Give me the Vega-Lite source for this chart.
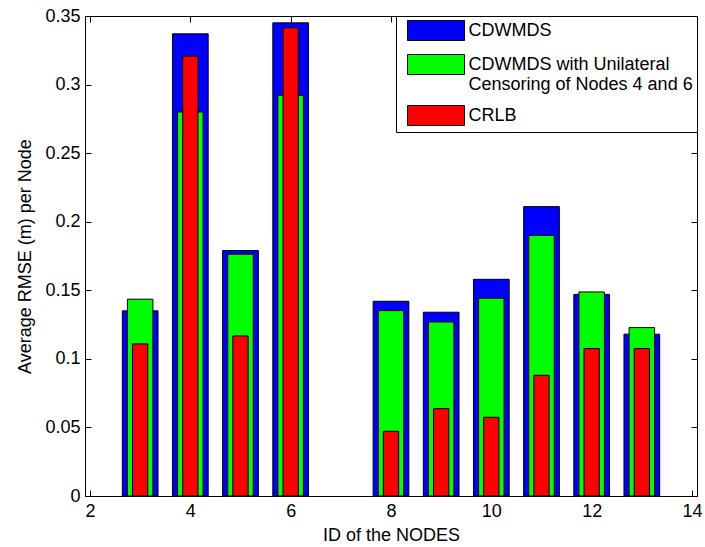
{
  "$schema": "https://vega.github.io/schema/vega-lite/v6.json",
  "width": 612,
  "height": 480,
  "autosize": {"type": "none"},
  "padding": {"left": 85, "top": 16, "right": 8, "bottom": 51},
  "background": "white",
  "data": {
    "values": [
      {"node": 3, "series": "CDWMDS", "value": 0.135},
      {"node": 4, "series": "CDWMDS", "value": 0.337},
      {"node": 5, "series": "CDWMDS", "value": 0.179},
      {"node": 6, "series": "CDWMDS", "value": 0.345},
      {"node": 8, "series": "CDWMDS", "value": 0.142},
      {"node": 9, "series": "CDWMDS", "value": 0.134},
      {"node": 10, "series": "CDWMDS", "value": 0.158},
      {"node": 11, "series": "CDWMDS", "value": 0.211},
      {"node": 12, "series": "CDWMDS", "value": 0.147},
      {"node": 13, "series": "CDWMDS", "value": 0.118},
      {"node": 3, "series": "CDWMDS with Unilateral Censoring of Nodes 4 and 6", "value": 0.1435},
      {"node": 4, "series": "CDWMDS with Unilateral Censoring of Nodes 4 and 6", "value": 0.28},
      {"node": 5, "series": "CDWMDS with Unilateral Censoring of Nodes 4 and 6", "value": 0.1763},
      {"node": 6, "series": "CDWMDS with Unilateral Censoring of Nodes 4 and 6", "value": 0.2923},
      {"node": 8, "series": "CDWMDS with Unilateral Censoring of Nodes 4 and 6", "value": 0.1352},
      {"node": 9, "series": "CDWMDS with Unilateral Censoring of Nodes 4 and 6", "value": 0.1269},
      {"node": 10, "series": "CDWMDS with Unilateral Censoring of Nodes 4 and 6", "value": 0.1442},
      {"node": 11, "series": "CDWMDS with Unilateral Censoring of Nodes 4 and 6", "value": 0.19},
      {"node": 12, "series": "CDWMDS with Unilateral Censoring of Nodes 4 and 6", "value": 0.1488},
      {"node": 13, "series": "CDWMDS with Unilateral Censoring of Nodes 4 and 6", "value": 0.1228},
      {"node": 3, "series": "CRLB", "value": 0.1109},
      {"node": 4, "series": "CRLB", "value": 0.3207},
      {"node": 5, "series": "CRLB", "value": 0.1167},
      {"node": 6, "series": "CRLB", "value": 0.3414},
      {"node": 8, "series": "CRLB", "value": 0.0472},
      {"node": 9, "series": "CRLB", "value": 0.0637},
      {"node": 10, "series": "CRLB", "value": 0.0574},
      {"node": 11, "series": "CRLB", "value": 0.088},
      {"node": 12, "series": "CRLB", "value": 0.1075},
      {"node": 13, "series": "CRLB", "value": 0.1075}
    ]
  },
  "layer": [
    {
      "transform": [{"filter": "datum.series == 'CDWMDS'"}],
      "mark": {"type": "bar", "width": 35.7, "stroke": "black", "strokeWidth": 1, "opacity": 1},
      "encoding": {
        "x": {
          "field": "node", "type": "quantitative",
          "scale": {"domain": [2, 14], "nice": false, "zero": false},
          "axis": {"values": [2, 4, 6, 8, 10, 12, 14], "title": "ID of the NODES", "titlePadding": 6, "labelPadding": 6}
        },
        "y": {
          "field": "value", "type": "quantitative",
          "scale": {"domain": [0, 0.35], "nice": false},
          "axis": {"values": [0, 0.05, 0.1, 0.15, 0.2, 0.25, 0.3, 0.35], "format": "~g", "title": "Average RMSE (m) per Node", "titlePadding": 10, "labelPadding": 5}
        },
        "color": {
          "field": "series", "type": "nominal",
          "scale": {
            "domain": ["CDWMDS", "CDWMDS with Unilateral Censoring of Nodes 4 and 6", "CRLB"],
            "range": ["#0000ff", "#00ff00", "#ff0000"]
          },
          "legend": {
            "title": null,
            "orient": "top-right",
            "offset": 0,
            "labelExpr": "datum.label == 'CDWMDS with Unilateral Censoring of Nodes 4 and 6' ? ['CDWMDS with Unilateral', 'Censoring of Nodes 4 and 6'] : datum.label"
          }
        }
      }
    },
    {
      "transform": [{"filter": "datum.series == 'CDWMDS with Unilateral Censoring of Nodes 4 and 6'"}],
      "mark": {"type": "bar", "width": 25.5, "stroke": "black", "strokeWidth": 1, "opacity": 1},
      "encoding": {
        "x": {"field": "node", "type": "quantitative", "axis": null},
        "y": {"field": "value", "type": "quantitative", "axis": null},
        "color": {"field": "series", "type": "nominal"}
      }
    },
    {
      "transform": [{"filter": "datum.series == 'CRLB'"}],
      "mark": {"type": "bar", "width": 15.3, "stroke": "black", "strokeWidth": 1, "opacity": 1},
      "encoding": {
        "x": {"field": "node", "type": "quantitative", "axis": null},
        "y": {"field": "value", "type": "quantitative", "axis": null},
        "color": {"field": "series", "type": "nominal"}
      }
    },
    {
      "transform": [{"filter": "datum.series == 'CRLB'"}],
      "mark": {"type": "bar", "width": 1, "opacity": 0},
      "encoding": {
        "x": {"field": "node", "type": "quantitative",
          "axis": {"orient": "top", "values": [2, 4, 6, 8, 10, 12, 14], "labels": false, "title": null}},
        "y": {"field": "value", "type": "quantitative",
          "axis": {"orient": "right", "values": [0, 0.05, 0.1, 0.15, 0.2, 0.25, 0.3, 0.35], "labels": false, "title": null}}
      }
    }
  ],
  "resolve": {"axis": {"x": "independent", "y": "independent"}},
  "config": {
    "view": {"stroke": "black", "strokeWidth": 1},
    "axis": {
      "grid": false,
      "domain": false,
      "offset": -6,
      "ticks": true,
      "tickColor": "black",
      "tickSize": 6,
      "tickWidth": 1,
      "labelColor": "black",
      "titleColor": "black",
      "labelFont": "Liberation Sans",
      "titleFont": "Liberation Sans",
      "labelFontSize": 18,
      "titleFontSize": 18,
      "titleFontWeight": "normal",
      "zindex": 0
    },
    "legend": {
      "strokeColor": "black",
      "fillColor": "white",
      "padding": 4,
      "cornerRadius": 0,
      "symbolType": "M-2.85,-1L2.85,-1L2.85,1L-2.85,1Z",
      "symbolSize": 400,
      "symbolOffset": 25.5,
      "symbolStrokeColor": "black",
      "symbolStrokeWidth": 1,
      "symbolOpacity": 1,
      "labelFont": "Liberation Sans",
      "labelFontSize": 18,
      "labelColor": "black",
      "labelLimit": 400,
      "labelOffset": 22,
      "rowPadding": 9
    }
  }
}
